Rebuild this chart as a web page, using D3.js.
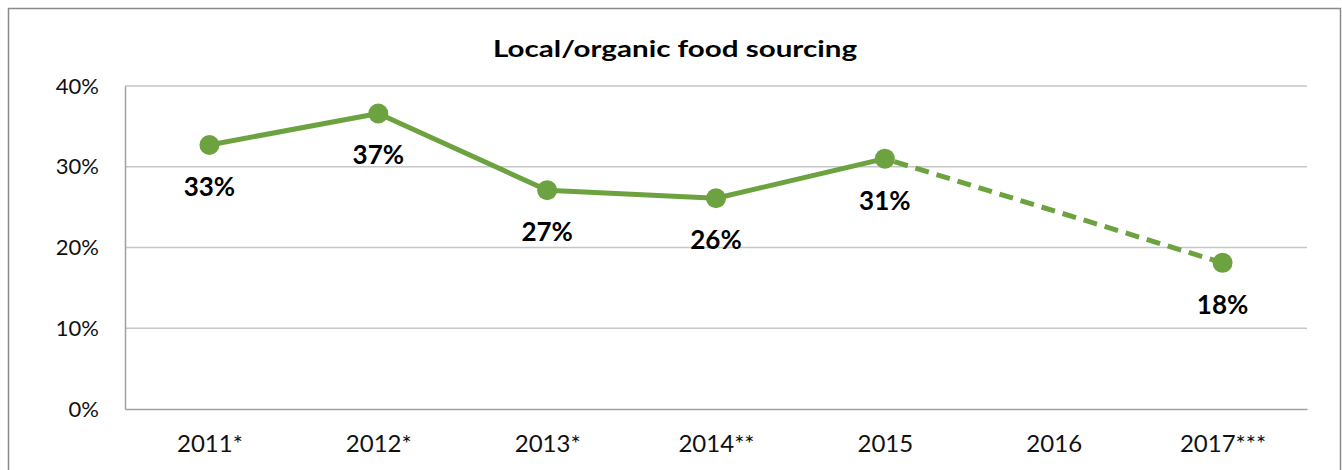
<!DOCTYPE html>
<html>
<head>
<meta charset="utf-8">
<script src="https://cdn.jsdelivr.net/npm/d3@7.9.0/dist/d3.min.js"></script>
<style>
  html, body { margin: 0; padding: 0; background: #fff; }
  svg { display: block; font-family: Lato, "Open Sans", sans-serif; }
</style>
</head>
<body>
<svg id="chart" width="1342" height="470"></svg>
<script>
const years = ['2011*', '2012*', '2013*', '2014**', '2015', '2016', '2017***'];
const values = [32.7, 36.6, 27.1, 26.1, 31.0, null, 18.1];
const valueLabels = ['33%', '37%', '27%', '26%', '31%', null, '18%'];
const yTicks = [0, 10, 20, 30, 40];

const green = '#6CA23F';
const svg = d3.select('#chart');

// outer frame
svg.append('rect')
    .attr('x', 8.5).attr('y', 8.5)
    .attr('width', 1332).attr('height', 470)
    .attr('fill', 'none')
    .attr('stroke', '#8a8a8a')
    .attr('stroke-width', 1.5);

const plotLeft = 125, plotRight = 1307, plotTop = 86, plotBottom = 409;

const x = d3.scalePoint().domain(years).range([plotLeft, plotRight]).padding(0.5);
const y = d3.scaleLinear().domain([0, 40]).range([plotBottom, plotTop]);

// gridlines
svg.append('g')
    .selectAll('line')
    .data(yTicks.filter(t => t > 0))
    .join('line')
    .attr('x1', plotLeft).attr('x2', plotRight)
    .attr('y1', d => y(d)).attr('y2', d => y(d))
    .attr('stroke', '#c6c6c6')
    .attr('stroke-width', 1.5);

// axes
const yAxis = svg.append('g')
    .attr('transform', `translate(${plotLeft},0)`)
    .call(d3.axisLeft(y).tickValues(yTicks).tickFormat(d => d + '%').tickSize(0).tickPadding(26));
yAxis.select('.domain').attr('stroke', '#a0a0a0').attr('stroke-width', 1.5);
yAxis.selectAll('text').attr('font-size', 22).attr('fill', '#111').attr('font-family', 'Lato');

const xAxis = svg.append('g')
    .attr('transform', `translate(0,${plotBottom})`)
    .call(d3.axisBottom(x).tickSize(0).tickPadding(26));
xAxis.select('.domain').attr('stroke', '#a0a0a0').attr('stroke-width', 1.5);
xAxis.selectAll('text').attr('font-size', 24).attr('fill', '#111').attr('font-family', 'Lato');

// line segments
const pts = years.map((yr, i) => ({ yr, v: values[i], label: valueLabels[i] })).filter(d => d.v !== null);
const line = d3.line().x(d => x(d.yr)).y(d => y(d.v));

svg.append('path')
    .datum(pts.slice(0, 5))
    .attr('d', line)
    .attr('fill', 'none')
    .attr('stroke', green)
    .attr('stroke-width', 5)
    .attr('stroke-linejoin', 'round');

svg.append('path')
    .datum(pts.slice(4))
    .attr('d', line)
    .attr('fill', 'none')
    .attr('stroke', green)
    .attr('stroke-width', 5)
    .attr('stroke-dasharray', '14,8')
    .attr('stroke-dashoffset', -10);

svg.append('g')
    .selectAll('circle')
    .data(pts)
    .join('circle')
    .attr('cx', d => x(d.yr))
    .attr('cy', d => y(d.v))
    .attr('r', 10)
    .attr('fill', green);

svg.append('g')
    .selectAll('text')
    .data(pts)
    .join('text')
    .attr('x', d => x(d.yr))
    .attr('y', d => y(d.v) + 51)
    .attr('text-anchor', 'middle')
    .attr('font-size', 26)
    .attr('font-weight', 'bold')
    .attr('fill', '#000')
    .text(d => d.label);

svg.append('text')
    .attr('x', 675)
    .attr('y', 57)
    .attr('text-anchor', 'middle')
    .attr('font-size', 23)
    .attr('font-weight', 'bold')
    .attr('fill', '#000')
    .attr('textLength', 364)
    .attr('lengthAdjust', 'spacingAndGlyphs')
    .text('Local/organic food sourcing');
</script>
</body>
</html>
